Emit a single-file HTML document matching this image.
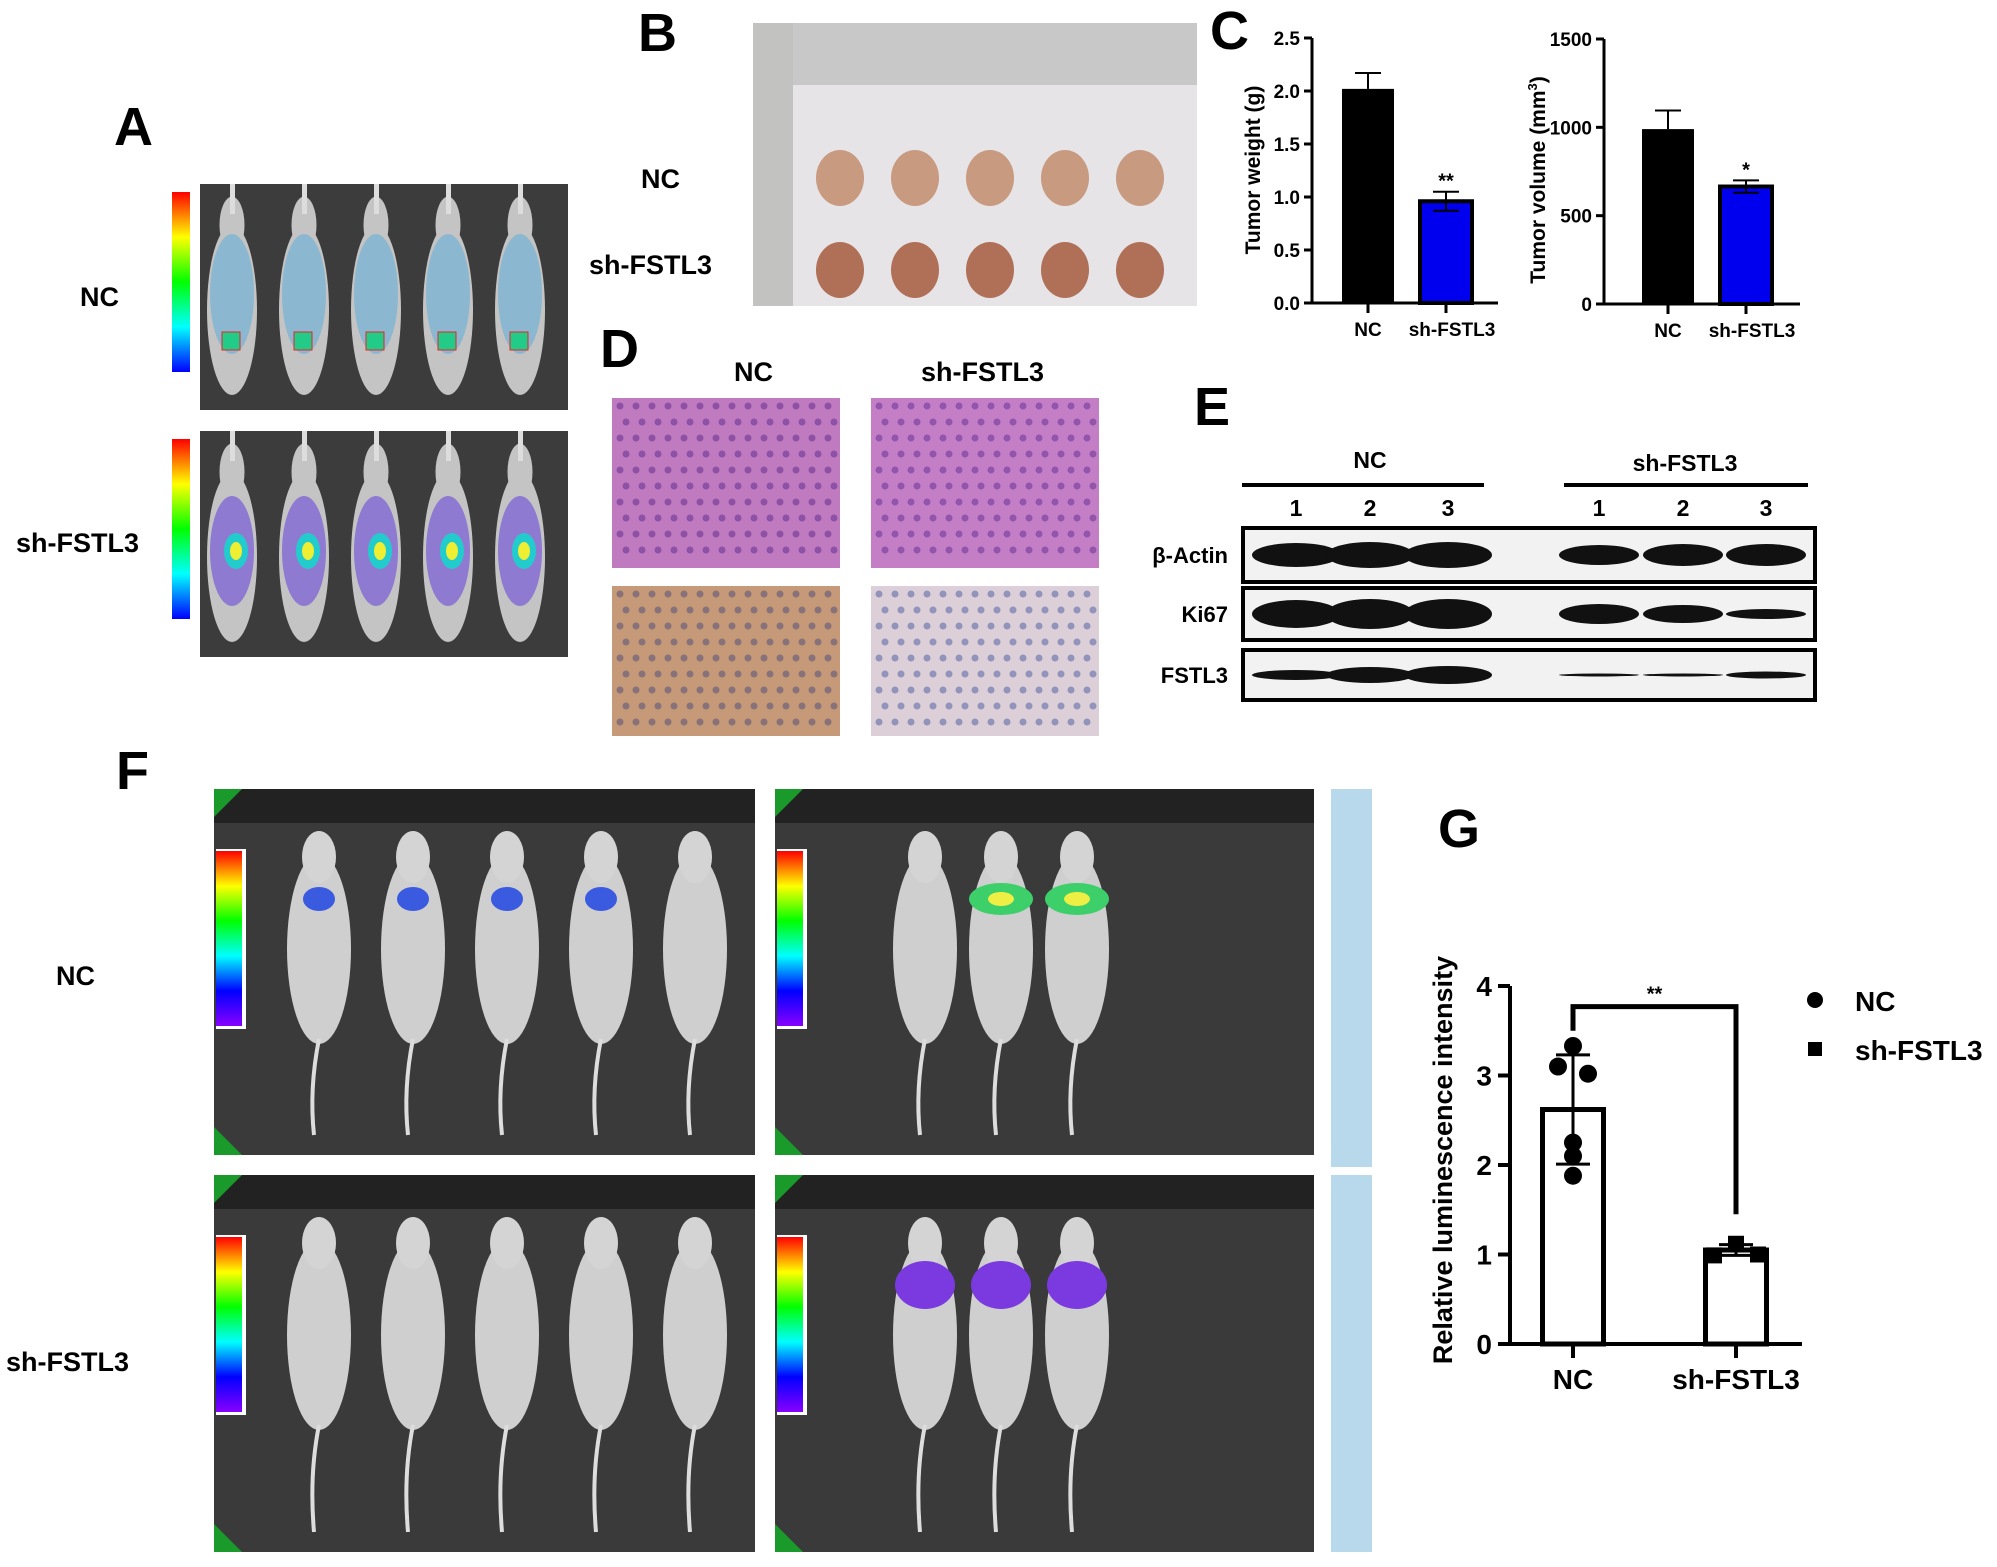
<!DOCTYPE html>
<html><head><meta charset="utf-8"><style>
body{margin:0;background:#fff;}
#root{position:relative;width:1997px;height:1567px;overflow:hidden;font-family:"Liberation Sans",Arial,sans-serif;}
.t{position:absolute;font-weight:bold;color:#000;white-space:nowrap;}
.L{font-size:54px;}
.g{font-size:27px;}
</style></head><body>
<div id="root">
<div class="t L" style="left:114px;top:96px">A</div>
<div class="t L" style="left:638px;top:2px">B</div>
<div class="t L" style="left:1210px;top:0px">C</div>
<div class="t L" style="left:600px;top:318px">D</div>
<div class="t L" style="left:1194px;top:376px">E</div>
<div class="t L" style="left:116px;top:740px">F</div>
<div class="t L" style="left:1438px;top:798px">G</div>

<div class="t g" style="left:80px;top:282px">NC</div>
<div class="t g" style="left:16px;top:528px">sh-FSTL3</div>
<div class="t g" style="left:641px;top:164px">NC</div>
<div class="t g" style="left:589px;top:250px">sh-FSTL3</div>
<div class="t g" style="left:734px;top:357px">NC</div>
<div class="t g" style="left:921px;top:357px">sh-FSTL3</div>
<div class="t g" style="left:56px;top:961px">NC</div>
<div class="t g" style="left:6px;top:1347px">sh-FSTL3</div>

<svg id="imgs" width="1997" height="1567" style="position:absolute;left:0;top:0"></svg>
<svg id="charts" width="1997" height="1567" style="position:absolute;left:0;top:0"></svg>
</div>
<script>
// ---- data ----
const cCats=["NC","sh-FSTL3"];
const weightVals=[2.02,0.96];
const weightErr=[0.15,0.09];
const weightTicks=[0,0.5,1.0,1.5,2.0,2.5];
const volVals=[990,665];
const volErr=[105,35];
const volTicks=[0,500,1000,1500];
const gCats=["NC","sh-FSTL3"];
const gMeans=[2.62,1.05];
const gSD=[0.61,0.06];
const gNCpts=[3.33,3.1,3.02,2.25,2.1,1.88];
const gSHpts=[1.12,0.99,1.0];
const gTicks=[0,1,2,3,4];

const NS="http://www.w3.org/2000/svg";
function el(p,tag,a,txt){const e=document.createElementNS(NS,tag);for(const k in a)e.setAttribute(k,a[k]);if(txt!==undefined)e.textContent=txt;p.appendChild(e);return e;}
const S=document.getElementById('imgs');
const C=document.getElementById('charts');
const defs=el(S,'defs',{});
function grad(id,cols){const gr=el(defs,'linearGradient',{id:id,x1:0,y1:0,x2:0,y2:1});cols.forEach((c,i)=>el(gr,'stop',{offset:i/(cols.length-1),'stop-color':c}));}
grad('cbA',['#f00','#ff0','#0f0','#0ff','#00f']);
grad('cbF',['#f00','#ff0','#0f0','#0ff','#00f','#80f']);

// ---------- image panels (approximations) ----------
function mouse(p,cx,cy,w,h,col){el(p,'ellipse',{cx:cx,cy:cy,rx:w/2,ry:h/2,fill:col});el(p,'ellipse',{cx:cx,cy:cy-h/2,rx:w/4,ry:h/6,fill:col});}
function panelA(y,bottom){
 const g=el(S,'g',{});
 el(g,'rect',{x:170,y:y,width:398,height:226,fill:'#3c3c3c'});
 el(g,'rect',{x:170,y:y,width:30,height:226,fill:'#fff'});
 el(g,'rect',{x:172,y:y+8,width:18,height:180,fill:'url(#cbA)'});
 for(let i=0;i<5;i++){const cx=232+i*72;
  mouse(g,cx,y+126,50,170,'#c4c4c4');
  el(g,'rect',{x:cx-2,y:y,width:5,height:30,fill:'#ddd'});
  if(!bottom){el(g,'ellipse',{cx:cx,cy:y+110,rx:22,ry:60,fill:'#4aa8e0',opacity:0.45});el(g,'rect',{x:cx-10,y:y+148,width:18,height:18,fill:'#2c8',stroke:'#e22'});}
  else{el(g,'ellipse',{cx:cx,cy:y+120,rx:22,ry:55,fill:'#6a4ad8',opacity:0.6});el(g,'ellipse',{cx:cx+4,cy:y+120,rx:12,ry:18,fill:'#2cc'});el(g,'ellipse',{cx:cx+4,cy:y+120,rx:6,ry:9,fill:'#ee3'});}
 }
}
panelA(184,false);panelA(431,true);

// B photo
(function(){const g=el(S,'g',{});
 el(g,'rect',{x:753,y:23,width:444,height:283,fill:'#e6e4e6'});
 el(g,'rect',{x:753,y:23,width:444,height:62,fill:'#c9c8c8'});
 el(g,'rect',{x:753,y:23,width:40,height:283,fill:'#c2c2c0'});
 for(let r=0;r<2;r++)for(let i=0;i<5;i++){el(g,'ellipse',{cx:840+i*75,cy:r?270:178,rx:24,ry:28,fill:r?'#b07058':'#c89a80'});}
})();

// D histology
function tissue(x,y,w,h,bg,dot,name){const g=el(S,'g',{});
 el(g,'rect',{x:x,y:y,width:w,height:h,fill:bg});
 for(let i=0;i<14;i++)for(let j=0;j*16+10<h;j++){el(g,'circle',{cx:x+8+i*16+(j%2)*6,cy:y+8+j*16,r:3.5,fill:dot,opacity:0.5});}}
tissue(612,398,228,170,'#c07ac0','#5a2a8a','d-he-nc');
tissue(871,398,228,170,'#c47ec6','#5e2e90','d-he-sh');
tissue(612,586,228,150,'#c69a78','#4a4a7a','d-ihc-nc');
tissue(871,586,228,150,'#dccfd8','#4a5aa0','d-ihc-sh');

// E blots
(function(){const g=el(S,'g',{});
 el(g,'text',{x:1370,y:468,'font-size':23,'font-weight':'bold','text-anchor':'middle','font-family':'Liberation Sans'},'NC');
 el(g,'text',{x:1685,y:471,'font-size':23,'font-weight':'bold','text-anchor':'middle','font-family':'Liberation Sans'},'sh-FSTL3');
 el(g,'rect',{x:1242,y:483,width:242,height:4,fill:'#000'});
 el(g,'rect',{x:1564,y:483,width:244,height:4,fill:'#000'});
 const lx=[1296,1370,1448,1599,1683,1766];
 lx.forEach((x,i)=>el(g,'text',{x:x,y:516,'font-size':23,'font-weight':'bold','text-anchor':'middle','font-family':'Liberation Sans'},String(i%3+1)));
 const rows=[[528,582,'β-Actin',[24,26,26,20,22,22]],[588,640,'Ki67',[28,30,30,20,18,10]],[650,700,'FSTL3',[10,16,18,3,3,7]]];
 rows.forEach(r=>{el(g,'rect',{x:1243,y:r[0],width:572,height:r[1]-r[0],fill:'#f2f2f2',stroke:'#000','stroke-width':4});
  el(g,'text',{x:1228,y:(r[0]+r[1])/2+8,'font-size':22,'font-weight':'bold','text-anchor':'end','font-family':'Liberation Sans'},r[2]);
  lx.forEach((x,i)=>el(g,'ellipse',{cx:x,cy:(r[0]+r[1])/2,rx:i<3?44:40,ry:r[3][i]/2,fill:'#111'}));});
})();

// F images
function panelF(x,y,w,h,n,glow,name){const g=el(S,'g',{});
 el(g,'rect',{x:x,y:y,width:w,height:h,fill:'#3a3a3a'});
 el(g,'rect',{x:x,y:y,width:w,height:34,fill:'#222'});
 el(g,'polygon',{points:`${x},${y} ${x+28},${y} ${x},${y+28}`,fill:'#1a9a2a'});
 el(g,'polygon',{points:`${x},${y+h} ${x+28},${y+h} ${x},${y+h-28}`,fill:'#1a9a2a'});
 el(g,'rect',{x:x+2,y:y+60,width:30,height:180,fill:'#fff'});
 el(g,'rect',{x:x+2,y:y+62,width:26,height:175,fill:'url(#cbF)'});
 el(g,'rect',{x:x,y:y+h,width:w,height:10,fill:'#fff'});
 const x0=n==5?x+105:x+150;
 for(let i=0;i<n;i++){const cx=x0+i*(n==5?94:76);
  el(g,'ellipse',{cx:cx,cy:y+160,rx:32,ry:95,fill:'#cfcfcf'});
  el(g,'ellipse',{cx:cx,cy:y+68,rx:17,ry:26,fill:'#d4d4d4'});
  el(g,'path',{d:`M${cx} ${y+250} Q ${cx-10} ${y+300} ${cx-5} ${y+h-20}`,stroke:'#ddd','stroke-width':4,fill:'none'});
  if(glow==='nc'&&i<4)el(g,'ellipse',{cx:cx,cy:y+110,rx:16,ry:12,fill:'#3a5ae0'});
  if(glow==='ncr'&&i>0){el(g,'ellipse',{cx:cx,cy:y+110,rx:32,ry:16,fill:'#3ccf6a'});el(g,'ellipse',{cx:cx,cy:y+110,rx:13,ry:7,fill:'#ee4'});}
  if(glow==='sh')el(g,'ellipse',{cx:cx,cy:y+110,rx:30,ry:24,fill:'#7a3ae0'});
 }}
panelF(214,789,541,366,5,'nc','f-image-nc-left');
panelF(775,789,539,366,3,'ncr','f-image-nc-right');
panelF(214,1175,541,377,5,'none','f-image-sh-left');
panelF(775,1175,539,377,3,'sh','f-image-sh-right');
el(S,'rect',{x:1331,y:789,width:41,height:378,fill:'#b8d8ec'});
el(S,'rect',{x:1331,y:1175,width:41,height:377,fill:'#b8d8ec'});

// ---------- charts ----------
function txt(x,y,s,sz,anc,extra){const a={x:x,y:y,'font-size':sz,'font-weight':'bold','text-anchor':anc||'middle','font-family':'Liberation Sans, Arial, sans-serif'};Object.assign(a,extra||{});return el(C,'text',a,s);}

function barChart(o){
 const y=v=>o.y0-(v-o.min)/(o.max-o.min)*(o.y0-o.yTop);
 const gAx=el(C,'g',{});
 el(gAx,'line',{x1:o.ax,y1:o.yTop,x2:o.ax,y2:o.y0,stroke:'#000','stroke-width':3});
 el(gAx,'line',{x1:o.ax,y1:o.y0,x2:o.xEnd,y2:o.y0,stroke:'#000','stroke-width':3});
 o.ticks.forEach(t=>{el(gAx,'line',{x1:o.ax-8,y1:y(t),x2:o.ax,y2:y(t),stroke:'#000','stroke-width':3});
  const tl=txt(o.ax-12,y(t)+7,o.fmt(t),19,'end');});
 o.vals.forEach((v,i)=>{const cx=o.cx[i];
  const b=el(C,'rect',{x:cx-o.bw/2,y:y(v),width:o.bw,height:o.y0-y(v),fill:o.fills[i],stroke:'#000','stroke-width':i?4:0});
  
  el(C,'line',{x1:cx,y1:y(v),x2:cx,y2:y(v+o.err[i]),stroke:'#000','stroke-width':2});
  el(C,'line',{x1:cx-13,y1:y(v+o.err[i]),x2:cx+13,y2:y(v+o.err[i]),stroke:'#000','stroke-width':2});
  if(i){el(C,'line',{x1:cx,y1:y(v),x2:cx,y2:y(v-o.err[i]),stroke:'#000','stroke-width':2});
   el(C,'line',{x1:cx-13,y1:y(v-o.err[i]),x2:cx+13,y2:y(v-o.err[i]),stroke:'#000','stroke-width':2});
   const st=txt(cx,y(v+o.err[i])-4,o.star,20);}
  el(C,'line',{x1:cx,y1:o.y0,x2:cx,y2:o.y0+10,stroke:'#000','stroke-width':3});
  const xl=txt(cx+(i?6:0),o.y0+33,o.cats[i],19);
 });
 const yl=txt(o.lx,o.ly,'',21,'middle',{transform:`rotate(-90 ${o.lx} ${o.ly})`});
 yl.innerHTML=o.label;
}
barChart({name:'weight',ax:1312,y0:303,yTop:38,min:0,max:2.5,xEnd:1498,ticks:weightTicks,fmt:t=>t.toFixed(1),vals:weightVals,err:weightErr,cx:[1368,1446],bw:52,fills:['#000','#0000ee'],cats:cCats,star:'**',lx:1260,ly:170,label:'Tumor weight (g)'});
barChart({name:'volume',ax:1604,y0:304,yTop:39,min:0,max:1500,xEnd:1800,ticks:volTicks,fmt:t=>String(t),vals:volVals,err:volErr,cx:[1668,1746],bw:52,fills:['#000','#0000ee'],cats:cCats,star:'*',lx:1545,ly:180,label:'Tumor volume (mm<tspan font-size="13" dy="-8">3</tspan><tspan dy="8">)</tspan>'});

// G chart
(function(){
 const ax=1510,y0=1344,yTop=986,max=4,xEnd=1802;
 const y=v=>y0-v/max*(y0-yTop);
 const cx=[1573,1736],bw=61;
 const g=el(C,'g',{});
 el(g,'line',{x1:ax,y1:yTop,x2:ax,y2:y0,stroke:'#000','stroke-width':4});
 el(g,'line',{x1:ax,y1:y0,x2:xEnd,y2:y0,stroke:'#000','stroke-width':4});
 gTicks.forEach(t=>{el(g,'line',{x1:ax-12,y1:y(t),x2:ax,y2:y(t),stroke:'#000','stroke-width':4});
  const tl=txt(ax-18,y(t)+10,String(t),28,'end');});
 gMeans.forEach((m,i)=>{const b=el(C,'rect',{x:cx[i]-bw/2,y:y(m),width:bw,height:y0-y(m),fill:'#fff',stroke:'#000','stroke-width':5});
  
  el(C,'line',{x1:cx[i],y1:y(m-gSD[i]),x2:cx[i],y2:y(m+gSD[i]),stroke:'#000','stroke-width':3});
  [m-gSD[i],m+gSD[i]].forEach(v=>el(C,'line',{x1:cx[i]-17,y1:y(v),x2:cx[i]+17,y2:y(v),stroke:'#000','stroke-width':3}));
  el(C,'line',{x1:cx[i],y1:y0,x2:cx[i],y2:y0+14,stroke:'#000','stroke-width':4});
  const xl=txt(cx[i],y0+45,gCats[i],28);});
 const offN=[0,-15,15,0,0,0];
 gNCpts.forEach((v,i)=>{const p=el(C,'circle',{cx:cx[0]+offN[i],cy:y(v),r:9,fill:'#000'});});
 const offS=[0,-22,22];
 gSHpts.forEach((v,i)=>{const p=el(C,'rect',{x:cx[1]+offS[i]-8,y:y(v)-8,width:16,height:16,fill:'#000'});});
 const br=el(C,'path',{d:`M${cx[0]} ${y(3.5)} V${y(3.77)} H${cx[1]} V${y(1.45)}`,fill:'none',stroke:'#000','stroke-width':5});
 
 const st=txt((cx[0]+cx[1])/2,y(3.77)-6,'**',20);
 const yl=txt(1452,1160,'Relative luminescence intensity',27,'middle',{transform:'rotate(-90 1452 1160)'});
 
 const l1=el(C,'circle',{cx:1815,cy:1000,r:8,fill:'#000'});
 const t1=txt(1855,1011,'NC',28,'start');
 const l2=el(C,'rect',{x:1808,y:1042,width:14,height:14,fill:'#000'});
 const t2=txt(1855,1060,'sh-FSTL3',28,'start');
})();
</script>
</body></html>
